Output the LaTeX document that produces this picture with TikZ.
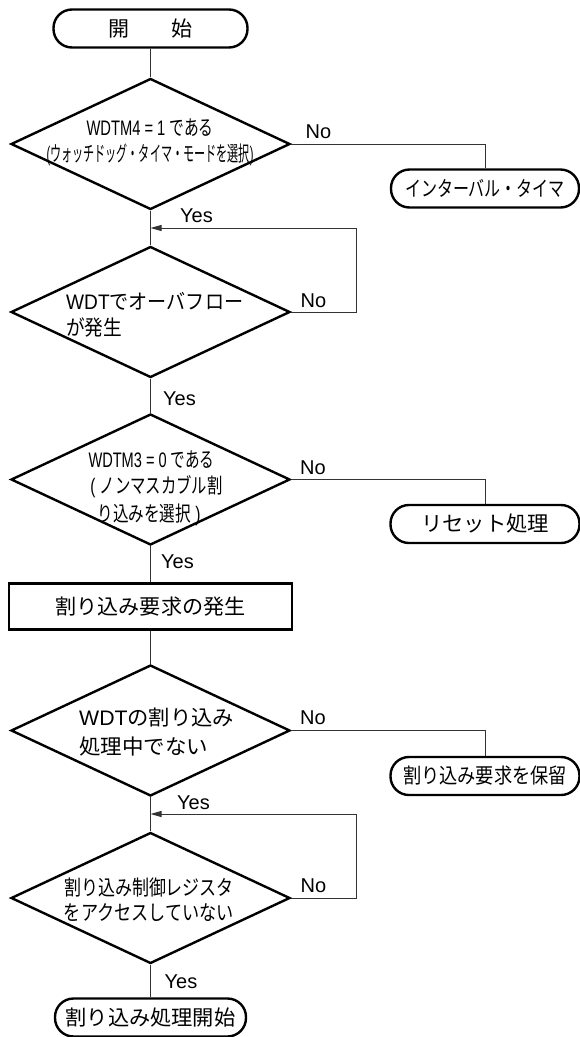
\documentclass[tikz,border=0pt]{standalone}
\usepackage{fontspec}
\usepackage{graphicx}
\setmainfont{Liberation Sans}
\newfontfamily\jp{Noto Sans CJK JP}
\usetikzlibrary{shapes.geometric,arrows.meta}
\newcommand\sqz[2]{\resizebox{#1}{\height}{#2}}
\newcommand\J[1]{{\jp #1}}
\begin{document}
\begin{tikzpicture}[x=1pt,y=-1pt,
  shp/.style={draw=black,line width=2.4pt},
  term/.style={shp,rectangle,rounded corners=18.5pt,minimum width=#1,minimum height=38pt,inner sep=0pt,font=\fontsize{21pt}{24pt}\selectfont\jp},
  procbox/.style={shp,rectangle,minimum width=283pt,minimum height=46pt,inner sep=0pt,font=\fontsize{21pt}{24pt}\selectfont\jp},
  dec/.style={shp,diamond,minimum width=279pt,minimum height=131pt,inner sep=0pt},
  txt/.style={inner sep=0pt,font=\fontsize{21pt}{24pt}\selectfont},
  lbl/.style={inner sep=0pt,font=\fontsize{20pt}{24pt}\selectfont},
  conn/.style={line width=1pt,draw=black!80},
  arr/.style={conn,-{Triangle[length=11pt,width=6pt]}}]
\useasboundingbox (0,0) rectangle (580,1037);

% shapes
\node[term=194pt] (start) at (150.5,28.5) {開　　始};
\node[dec] (d1) at (150.5,144) {};
\node[term=188pt] (t1) at (485,188.5) {\sqz{160pt}{インターバル・タイマ}};
\node[dec] (d2) at (150.5,312) {};
\node[dec] (d3) at (150.5,479.5) {};
\node[term=189pt] (t2) at (485,524) {\sqz{128pt}{リセット処理}};
\node[procbox] (box) at (150.5,606.5) {\sqz{190pt}{割り込み要求の発生}};
\node[dec] (d4) at (150.5,730.5) {};
\node[term=189pt] (t3) at (485,776) {\sqz{164pt}{割り込み要求を保留}};
\node[dec] (d5) at (150.5,898) {};
\node[term=191pt] (fin) at (150.5,1017.5) {\sqz{170pt}{割り込み処理開始}};

% diamond texts
\node[txt] (d1a) at (150,128) {\sqz{127pt}{WDTM4 = 1 \J{である}}};
\node[txt] (d1b) at (150,155) {\sqz{207pt}{(\J{ウォッチドッグ・タイマ・モードを選択})}};
\node[txt,anchor=west] (d2a) at (66,301) {\sqz{177pt}{WDT\J{でオーバフロー}}};
\node[txt,anchor=west] (d2b) at (66,328) {\sqz{56pt}{\J{が発生}}};
\node[txt] (d3a) at (151.5,460) {\sqz{126pt}{WDTM3 = 0 \J{である}}};
\node[txt] (d3b) at (156.5,487) {\sqz{132pt}{( \J{ノンマスカブル割}}};
\node[txt] (d3c) at (149,515) {\sqz{103pt}{\J{り込みを選択} )}};
\node[txt,anchor=west] (d4a) at (79,718) {\sqz{155pt}{WDT\J{の割り込み}}};
\node[txt,anchor=west] (d4b) at (79,747) {\sqz{129pt}{\J{処理中でない}}};
\node[txt] (d5a) at (149,887) {\sqz{170pt}{\J{割り込み制御レジスタ}}};
\node[txt] (d5b) at (149,913) {\sqz{170pt}{\J{をアクセスしていない}}};

% labels
\node[lbl] (y1) at (196.5,216) {Yes};
\node[lbl] (y2) at (179.5,399) {Yes};
\node[lbl] (y3) at (177.5,562) {Yes};
\node[lbl] (y4) at (193.5,803) {Yes};
\node[lbl] (y5) at (181,982) {Yes};
\node[lbl] (n1) at (318.5,132) {No};
\node[lbl] (n2) at (313.5,301) {No};
\node[lbl] (n3) at (313,468) {No};
\node[lbl] (n4) at (313,718) {No};
\node[lbl] (n5) at (313.5,886) {No};

% junctions
\coordinate (j1) at (150.5,228);
\coordinate (j2) at (150.5,814);

% connectors
\draw[conn] (start.south) -- (d1.north);
\draw[conn] (d1.south) -- (d2.north);
\draw[conn] (d1.east) -| (t1.north);
\draw[arr] (d2.east) -- ++(65,0) |- (j1);
\draw[conn] (d2.south) -- (d3.north);
\draw[conn] (d3.east) -| (t2.north);
\draw[conn] (d3.south) -- (box.north);
\draw[conn] (box.south) -- (d4.north);
\draw[conn] (d4.east) -| (t3.north);
\draw[conn] (d4.south) -- (d5.north);
\draw[arr] (d5.east) -- ++(65,0) |- (j2);
\draw[conn] (d5.south) -- (fin.north);
\end{tikzpicture}
\end{document}
